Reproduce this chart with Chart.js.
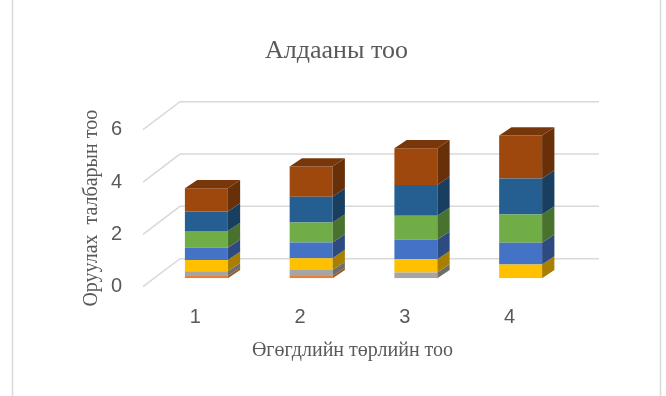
<!DOCTYPE html>
<html>
<head>
<meta charset="utf-8">
<script src="https://cdn.jsdelivr.net/npm/chart.js@4.4.0/dist/chart.umd.min.js"></script>
<style>
  html, body { margin: 0; padding: 0; background: #fff; }
  #wrap { width: 666px; height: 396px; }
</style>
</head>
<body>
<div id="wrap"><canvas id="errorsChart" width="666" height="396"></canvas></div>
<script>
var categories = ['1', '2', '3', '4'];
var yTicks = [0, 2, 4, 6];

// stacked from the bottom up
var series1 = [0.09, 0.09, 0, 0];
var series2 = [0.18, 0.23, 0.22, 0];
var series3 = [0.43, 0.45, 0.51, 0.53];
var series4 = [0.47, 0.6, 0.74, 0.83];
var series5 = [0.64, 0.76, 0.92, 1.08];
var series6 = [0.74, 0.99, 1.18, 1.37];
var series7 = [0.89, 1.15, 1.4, 1.65];

var seriesColors = ['#ED7D31', '#A5A5A5', '#FFC000', '#4472C4', '#70AD47', '#255E91', '#9E480E'];

var depth = { x: 37, y: -28 };       // floor depth of the plot box
var barShift = { x: 11, y: -8.4 };   // bar fronts sit a bit back from the floor edge
var barDepth = { x: 12.3, y: -8.3 };

var textGray = '#595959';
var serif = "'Liberation Serif', 'Times New Roman', serif";
var sans = "'Liberation Sans', Arial, sans-serif";

function shade(hex, f) {
    var n = parseInt(hex.slice(1), 16);
    var r = Math.round(((n >> 16) & 255) * f);
    var g = Math.round(((n >> 8) & 255) * f);
    var b = Math.round((n & 255) * f);
    return 'rgb(' + r + ',' + g + ',' + b + ')';
}

function poly(ctx, pts) {
    ctx.beginPath();
    ctx.moveTo(pts[0][0], pts[0][1]);
    for (var k = 1; k < pts.length; k++) ctx.lineTo(pts[k][0], pts[k][1]);
    ctx.closePath();
    ctx.fill();
}

var chart3d = {
    id: 'chart3d',
    beforeDraw: function (chart) {
        var ctx = chart.ctx;
        ctx.save();
        ctx.fillStyle = '#fff';
        ctx.fillRect(0, 0, chart.width, chart.height);
        ctx.strokeStyle = '#d9d9d9';
        ctx.lineWidth = 1.5;
        ctx.beginPath();
        ctx.moveTo(12.5, 0); ctx.lineTo(12.5, chart.height);
        ctx.moveTo(660.5, 0); ctx.lineTo(660.5, chart.height);
        ctx.stroke();
        ctx.restore();
    },
    beforeDatasetsDraw: function (chart) {
        var ctx = chart.ctx, area = chart.chartArea, y = chart.scales.y;
        ctx.save();
        ctx.strokeStyle = '#d9d9d9';
        ctx.lineWidth = 1.5;
        y.ticks.forEach(function (t) {
            var py = y.getPixelForValue(t.value);
            ctx.beginPath();
            ctx.moveTo(area.left, py);
            ctx.lineTo(area.left + depth.x, py + depth.y);
            ctx.lineTo(area.right + depth.x, py + depth.y);
            ctx.stroke();
        });
        ctx.restore();
        ctx.save();
        ctx.translate(barShift.x, barShift.y);
    },
    afterDatasetsDraw: function (chart) {
        var ctx = chart.ctx;
        var sets = chart.data.datasets;
        sets.forEach(function (ds, i) {
            var meta = chart.getDatasetMeta(i);
            meta.data.forEach(function (bar, j) {
                var p = bar.getProps(['x', 'y', 'base', 'width'], true);
                if (Math.abs(p.base - p.y) < 0.5) return;
                var x1 = p.x - p.width / 2, x2 = p.x + p.width / 2;
                var top = Math.min(p.y, p.base), bot = Math.max(p.y, p.base);
                ctx.fillStyle = shade(ds.backgroundColor, 0.66);
                poly(ctx, [[x2, top], [x2 + barDepth.x, top + barDepth.y],
                    [x2 + barDepth.x, bot + barDepth.y], [x2, bot]]);
                var topmost = true;
                for (var k = i + 1; k < sets.length; k++) {
                    if (sets[k].data[j] > 0) topmost = false;
                }
                if (topmost) {
                    ctx.fillStyle = shade(ds.backgroundColor, 0.76);
                    poly(ctx, [[x1, top], [x1 + barDepth.x, top + barDepth.y],
                        [x2 + barDepth.x, top + barDepth.y], [x2, top]]);
                }
            });
        });
        ctx.restore();
    }
};

var allSeries = [series1, series2, series3, series4, series5, series6, series7];

var errorsChart = new Chart(document.getElementById('errorsChart').getContext('2d'), {
    type: 'bar',
    data: {
        labels: categories,
        datasets: allSeries.map(function (s, i) {
            return {
                label: 'Series ' + (i + 1),
                data: s,
                backgroundColor: seriesColors[i],
                borderWidth: 0,
                inflateAmount: 0,
                categoryPercentage: 1,
                barPercentage: 0.41
            };
        })
    },
    options: {
        responsive: false,
        animation: false,
        devicePixelRatio: 1,
        layout: { padding: { left: 7, right: 0, top: 0, bottom: 0 } },
        plugins: {
            legend: { display: false },
            tooltip: { enabled: false },
            title: {
                display: true,
                text: 'Алдааны тоо',
                color: textGray,
                font: { family: serif, size: 26, weight: 'normal' },
                padding: { top: 35.4, bottom: 63.1 }
            }
        },
        scales: {
            x: {
                stacked: true,
                grid: { display: false, drawTicks: false },
                border: { display: false },
                ticks: { color: textGray, font: { family: sans, size: 20 }, padding: 19, maxRotation: 0 },
                title: {
                    display: true,
                    text: 'Өгөгдлийн төрлийн тоо',
                    color: textGray,
                    font: { family: serif, size: 20 },
                    padding: { top: 0, bottom: 33 }
                },
                afterFit: function (s) { s.height = 396 - 286.7; }
            },
            y: {
                stacked: true,
                min: 0,
                max: 6,
                afterBuildTicks: function (s) {
                    s.ticks = yTicks.map(function (v) { return { value: v }; });
                },
                grid: { display: false, drawTicks: false },
                border: { display: false },
                ticks: { color: textGray, font: { family: sans, size: 20 }, padding: 21 },
                title: {
                    display: true,
                    text: 'Оруулах  талбарын тоо',
                    color: textGray,
                    font: { family: serif, size: 20 },
                    padding: { top: 73, bottom: 0 }
                },
                afterFit: function (s) { s.width = 136; }
            },
            yRight: {
                type: 'linear',
                position: 'right',
                grid: { display: false, drawTicks: false },
                border: { display: false },
                ticks: { display: false },
                afterFit: function (s) { s.width = 104; }
            }
        }
    },
    plugins: [chart3d]
});
</script>
</body>
</html>
